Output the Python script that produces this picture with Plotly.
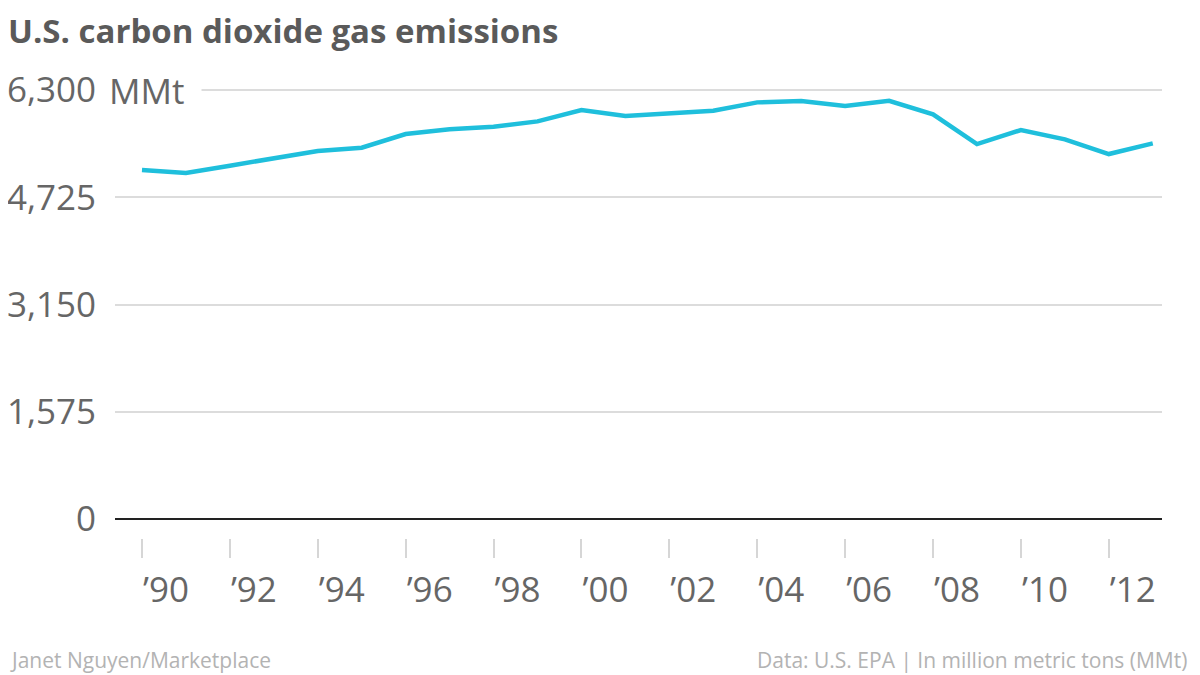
import plotly.graph_objects as go

years = list(range(1990, 2014))
emissions = [5126, 5082, 5189, 5297, 5405, 5453, 5654, 5723, 5761, 5840,
             6006, 5918, 5958, 5996, 6119, 6139, 6065, 6143, 5943, 5507,
             5713, 5576, 5360, 5517]

y_ticks = [0, 1575, 3150, 4725, 6300]
y_tick_text = ["0", "1,575", "3,150", "4,725", "6,300"]
x_ticks = list(range(1990, 2013, 2))
x_tick_text = ["\u2019" + str(y)[2:] for y in x_ticks]

FONT = "Open Sans"
LINE_COLOR = "#1fbfdc"

# page has an 8px body margin; figure coordinates = page coordinates - 8
W, H = 1192, 667
PL, PR, PT, PB = 107, 1154, 80, 530
PW, PH = PR - PL, PB - PT

fig = go.Figure()
fig.add_trace(go.Scatter(
    x=years, y=emissions, mode="lines",
    line=dict(color=LINE_COLOR, width=4.5),
    hoverinfo="skip", showlegend=False,
))

fig.update_layout(
    width=W, height=H,
    margin=dict(l=PL, r=W - PR, t=PT, b=H - PB, autoexpand=False),
    paper_bgcolor="white", plot_bgcolor="white",
    font=dict(family=FONT, color="#666666"),
    xaxis=dict(
        range=[1989.386, 2013.21],
        tickvals=x_ticks, ticktext=x_tick_text,
        ticks="outside", ticklen=19, tickwidth=1.5, tickcolor="#d6d6d6",
        showgrid=False, showline=False, zeroline=False,
        tickfont=dict(family=FONT, size=35, color="#666666"),
        ticklabelshift=24, ticklabelstandoff=2,
        automargin=False, fixedrange=True,
    ),
    yaxis=dict(
        range=[-279, 6330],
        tickvals=y_ticks, ticktext=y_tick_text,
        ticks="outside", ticklen=11, tickcolor="rgba(0,0,0,0)",
        showgrid=True, gridcolor="#dcdcdc", gridwidth=1.5,
        zeroline=True, zerolinecolor="#222222", zerolinewidth=2,
        showline=False,
        tickfont=dict(family=FONT, size=35, color="#666666"),
        automargin=False, fixedrange=True,
    ),
    annotations=[
        dict(text="<b>U.S. carbon dioxide gas emissions</b>", xref="paper", yref="paper",
             x=-(PL + 2) / PW, y=1 + (PT - 23) / PH, xanchor="left", yanchor="middle",
             showarrow=False, font=dict(family=FONT, size=33, color="#5a5a5a")),
        dict(text="MMt\u00a0", xref="paper", yref="y",
             x=(93 - PL) / PW, y=6300, xanchor="left", yanchor="middle",
             showarrow=False, bgcolor="white", borderpad=7,
             font=dict(family=FONT, size=35, color="#666666")),
        dict(text="Janet Nguyen/Marketplace", xref="paper", yref="paper",
             x=-PL / PW, y=-(652 - PB) / PH, xanchor="left", yanchor="middle",
             showarrow=False, font=dict(family=FONT, size=21, color="#b3b3b3")),
        dict(text="Data: U.S. EPA | In million metric tons (MMt)", xref="paper", yref="paper",
             x=(1181 - PL) / PW, y=-(652 - PB) / PH, xanchor="right", yanchor="middle",
             showarrow=False, font=dict(family=FONT, size=21, color="#b3b3b3")),
    ],
)

fig.write_html("out.html")
